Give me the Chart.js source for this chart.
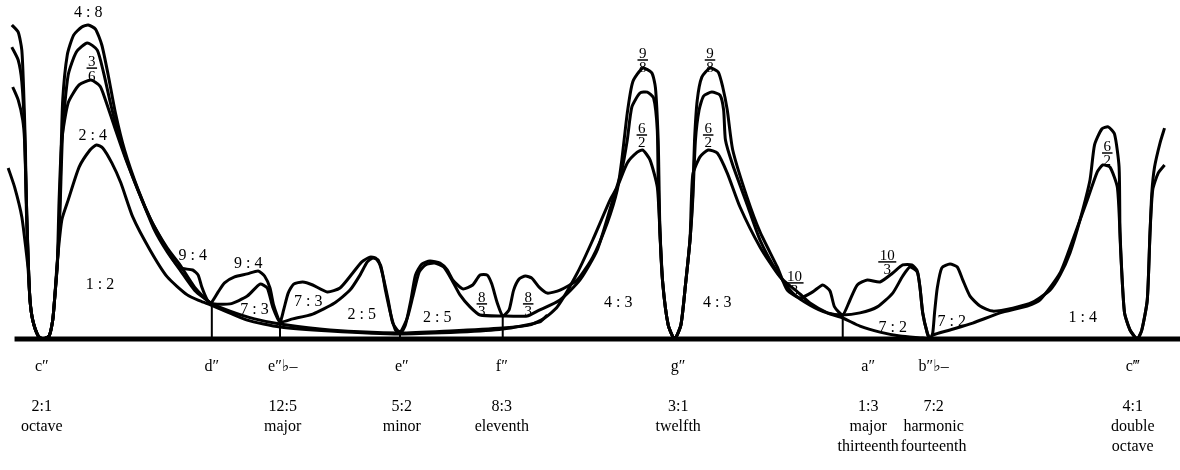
<!DOCTYPE html>
<html>
<head>
<meta charset="utf-8">
<script src="https://cdn.jsdelivr.net/npm/chart.js@4.4.0/dist/chart.umd.min.js"></script>
<style>
  html, body { margin: 0; padding: 0; background: #fff; }
  #wrap { width: 1180px; height: 470px; position: relative; }
</style>
</head>
<body>
<div id="wrap"><canvas id="roughness"></canvas></div>
<script>
// x: interval above c'' in cents (as laid out on the axis), y: roughness
const noteCents = [0, 187, 265, 396, 506, 700, 909, 981, 1200];
const noteNames = ['c″', 'd″', 'e″♭–', 'e″', 'f″', 'g″', 'a″', 'b″♭–', 'c‴'];
const ratioNames = ['2:1', '', '12:5', '5:2', '8:3', '3:1', '1:3', '7:2', '4:1'];
const intervalNames = ['octave', '', 'major', 'minor', 'eleventh', 'twelfth', 'major', 'harmonic', 'double'];
const intervalNames2 = ['', '', '', '', '', '', 'thirteenth', 'fourteenth', 'octave'];

// outermost curve (4:8, 9:8 ...)
const outerCurve = [[-33,104.7],[-26,102.3],[-22,96.3],[-20,83],[-18,63],[-17,43],[-15,26.3],[-13,13],[-10,6.3],[-4,1],[1,0],[8,1],[12,6.3],[14,13],[17,24.7],[19,36.3],[21,59.7],[23,79.7],[28,94.7],[35,101.3],[44,104],[51,104.7],[59,103.3],[66,98],[73,88],[81,75.3],[91,63],[106,49.7],[121,39],[135,31.3],[143,27],[152,23.7],[166,23],[172,21.3],[176,17.3],[182,13],[186,12],[194,15.7],[201,18.7],[212,20.7],[226,21.7],[238,22.7],[245,21],[251,17],[255,11.3],[262,5.7],[266,9.7],[271,15.3],[277,18.3],[287,19],[298,18],[314,15.7],[328,17],[342,22],[352,25.7],[361,27.3],[367,27],[373,24.3],[378,16.3],[384,8],[389,3],[395,2],[400,4.7],[406,13],[411,21.3],[418,25],[427,26],[438,25.3],[446,23],[452,19.7],[463,16.7],[474,18],[482,21.3],[490,21.3],[495,18.3],[501,12],[507,7.7],[514,9.7],[519,16.3],[525,20],[532,21],[539,20.3],[547,17.3],[556,15.3],[570,16.3],[589,19.7],[606,27.3],[622,38.7],[633,49.7],[638,59.7],[644,75.3],[650,85.7],[661,90.3],[671,88.7],[675,83.7],[678,66.3],[679,50.7],[680,35.3],[683,18.7],[689,4.7],[696,0],[703,4.7],[708,18],[713,33],[716,48],[718,66.3],[721,79.7],[726,87.3],[735,90.3],[744,89],[749,84],[754,76.3],[760,63],[776,47],[790,35.7],[809,24],[820,16.3],[834,13.7],[848,15.7],[859,18],[867,16],[872,10.7],[881,8],[889,13],[897,18],[908,19.7],[922,19],[936,22],[947,24.7],[957,24.7],[963,22.7],[966,17.3],[969,8.7],[974,2],[977,0],[980,2],[982,8.7],[985,17],[990,23.7],[999,25],[1007,24],[1013,19.7],[1021,14.3],[1032,11],[1046,9.3],[1068,10.3],[1090,12.3],[1109,16.3],[1120,21.3],[1131,28.7],[1142,39.7],[1153,53],[1158,64.7],[1166,70],[1173,70.7],[1180,68.3],[1185,57.3],[1186,35.3],[1188,22],[1191,8.7],[1197,3],[1205,0],[1210,3],[1216,13],[1219,35.3],[1221,48.7],[1224,57.3],[1230,65.3],[1235,70.3]];

// second curve
const middleCurve = [[-33,97.3],[-26,93],[-22,85.7],[-19,69.7],[-17,46.3],[-15,26.3],[-13,13],[-10,6.3],[-4,1],[1,0],[8,1],[12,6.3],[14,13],[17,24.7],[20,43],[23,69.7],[29,88],[38,95.7],[50,98.7],[61,96.3],[68,88.7],[76,78],[86,66.3],[100,54],[119,40.3],[138,30.3],[152,24.7],[168,17.3],[186,12],[207,11.7],[226,14.3],[240,18.3],[248,17],[254,10.7],[262,5.7],[276,6.7],[298,8.3],[322,12],[339,16.3],[350,21.3],[358,25.7],[364,27],[370,26.3],[375,21.3],[381,13],[386,5.3],[394,2.3],[402,7],[408,14],[415,22.3],[422,24.7],[432,25.3],[442,24],[451,19.7],[460,14.7],[471,10.7],[482,8],[507,7.7],[534,7.7],[545,9.3],[570,13],[592,19.7],[611,29.7],[628,46.3],[638,56.3],[644,66.3],[649,77.3],[658,82],[666,82.3],[673,80.3],[677,69.7],[678,53],[680,35.3],[683,18.7],[689,4.7],[696,0],[703,4.7],[708,18],[713,33],[716,46.3],[719,66.3],[723,76.3],[728,81],[737,82.3],[746,81.3],[750,76.3],[752,66.3],[760,58],[776,44.7],[790,33],[809,22.3],[826,15.3],[845,11.3],[864,8.7],[881,8],[900,8.7],[919,10.7],[936,15.3],[947,21],[955,24],[963,22.3],[966,17],[969,8.7],[974,2],[977,0],[980,1.3],[999,3],[1024,5.3],[1054,8.7],[1084,11],[1098,13],[1120,22],[1134,33],[1150,46.3],[1161,55.7],[1167,58],[1175,57.3],[1183,50.7],[1186,35.3],[1188,22],[1191,8.7],[1197,3],[1205,0],[1210,3],[1216,13],[1219,35.3],[1222,49.7],[1228,55.3],[1235,58]];

// third curve (3:6, 6:2 ...)
const innerCurve = [[-32,84],[-26,79.7],[-21,73],[-19,66.3],[-17,46.3],[-15,26.3],[-13,13],[-10,6.3],[-4,1],[1,0],[8,1],[12,6.3],[14,13],[17,24.7],[19,46.3],[22,66.3],[29,78.7],[41,84.7],[54,86.3],[64,84.3],[70,79.7],[80,70.7],[92,60.3],[108,48],[124,36.3],[138,29],[152,23],[168,16.3],[186,12],[207,9.3],[234,6.7],[262,5],[317,3],[394,2],[449,2.7],[507,3.7],[537,4.7],[553,7],[567,10.7],[589,22],[606,33],[625,46.3],[633,50.7],[644,58.7],[655,62.3],[661,63],[669,59.7],[677,50.7],[680,35.3],[683,18.7],[689,4.7],[696,0],[703,4.7],[708,18],[713,33],[716,54.7],[724,60.7],[733,63],[743,62],[754,55.3],[768,44],[790,30.7],[812,20.7],[834,15],[845,12],[864,8.7],[881,7],[900,4.3],[922,2.3],[944,1],[969,0.3],[977,0]];

// lowest curve (2:4 and the long trough)
const lowCurve = [[-37,57],[-30,50.7],[-22,40.7],[-17,28.7],[-15,23],[-13,13],[-10,6.3],[-4,1],[1,0],[8,1],[12,6.3],[14,13],[17,25.7],[22,39.7],[29,46.3],[41,57.3],[53,63],[60,64.7],[67,63.7],[77,58.7],[87,52],[100,40.7],[119,29.7],[138,20.7],[160,14.7],[174,12.7],[186,11.3],[226,6.3],[262,4],[317,2.7],[394,1.7],[460,2.3],[507,3.3],[548,5.7],[556,8]];

// drop lines under the junctions at d'', e''b, e'', f'', a''
const junctions = [[187,12],[262,5.7],[394,2],[507,7.7],[881,8]];

const ratioLabels = [
  ['4 : 8', 51, 108.7], ['2 : 4', 56, 67.7], ['1 : 2', 64, 18],
  ['9 : 4', 166, 27.7], ['9 : 4', 227, 25], ['7 : 3', 234, 9.7], ['7 : 3', 293, 12.3],
  ['2 : 5', 352, 8], ['2 : 5', 435, 7], ['4 : 3', 634, 12], ['4 : 3', 743, 12],
  ['7 : 2', 936, 3.7], ['7 : 2', 1001, 5.7], ['1 : 4', 1145, 7]
];
const fractionLabels = [
  ['3', '6', 55, 90.3], ['9', '8', 661, 93], ['9', '8', 735, 93],
  ['6', '2', 660, 68], ['6', '2', 733, 68], ['8', '3', 484, 11.7], ['8', '3', 535, 11.7],
  ['10', '3', 828, 18.7], ['10', '3', 930, 25.7], ['6', '2', 1172, 62]
];

const toPoints = arr => arr.map(([x, y]) => ({ x, y }));

const curveStyle = {
  borderColor: '#000',
  borderWidth: 3,
  pointRadius: 0,
  tension: 0.2,
  fill: false,
  clip: false
};

const junctionPoints = junctions.flatMap(([x, y]) => [{ x, y }, { x, y: 0 }, { x, y: null }]);

const curveLabels = {
  id: 'curveLabels',
  afterDatasetsDraw(chart) {
    const { ctx, scales: { x, y } } = chart;
    ctx.save();
    ctx.fillStyle = '#000';
    ctx.strokeStyle = '#000';
    ctx.textAlign = 'center';
    ctx.textBaseline = 'middle';
    ctx.font = '16px "Liberation Serif", "DejaVu Serif", serif';
    ratioLabels.forEach(([t, cx, r]) => {
      ctx.fillText(t, x.getPixelForValue(cx), y.getPixelForValue(r));
    });
    ctx.font = '15px "Liberation Serif", "DejaVu Serif", serif';
    fractionLabels.forEach(([n, d, cx, r]) => {
      const px = x.getPixelForValue(cx);
      const py = y.getPixelForValue(r);
      const w = ctx.measureText(n).width + 3;
      ctx.lineWidth = 1.5;
      ctx.beginPath();
      ctx.moveTo(px - w / 2, py);
      ctx.lineTo(px + w / 2, py);
      ctx.stroke();
      ctx.textBaseline = 'alphabetic';
      ctx.fillText(n, px, py - 2);
      ctx.textBaseline = 'top';
      ctx.fillText(d, px, py + 1);
    });
    ctx.restore();
  }
};

new Chart(document.getElementById('roughness'), {
  type: 'line',
  data: {
    datasets: [
      { ...curveStyle, data: toPoints(outerCurve) },
      { ...curveStyle, data: toPoints(middleCurve) },
      { ...curveStyle, data: toPoints(innerCurve) },
      { ...curveStyle, data: toPoints(lowCurve) },
      { ...curveStyle, borderWidth: 2, tension: 0, data: junctionPoints },
      { ...curveStyle, borderWidth: 5, tension: 0, data: [{ x: -30, y: 0 }, { x: 1252, y: 0 }] }
    ]
  },
  options: {
    responsive: true,
    maintainAspectRatio: false,
    animation: false,
    events: [],
    spanGaps: false,
    layout: { padding: 0 },
    plugins: { legend: { display: false }, tooltip: { enabled: false } },
    scales: {
      x: {
        type: 'linear',
        min: -46,
        max: 1252,
        grid: { display: false, drawTicks: false },
        border: { display: false },
        afterBuildTicks: scale => { scale.ticks = noteCents.map(v => ({ value: v })); },
        afterFit: scale => { scale.height = 131; },
        ticks: {
          autoSkip: false,
          maxRotation: 0,
          minRotation: 0,
          padding: 18,
          color: '#000',
          font: { family: '"Liberation Serif", "DejaVu Serif", serif', size: 16, lineHeight: 1.25 },
          callback: (v, i) => [noteNames[i], '', ratioNames[i], intervalNames[i], intervalNames2[i]]
        }
      },
      y: { display: false, min: 0, max: 113 }
    }
  },
  plugins: [curveLabels]
});
</script>
</body>
</html>
